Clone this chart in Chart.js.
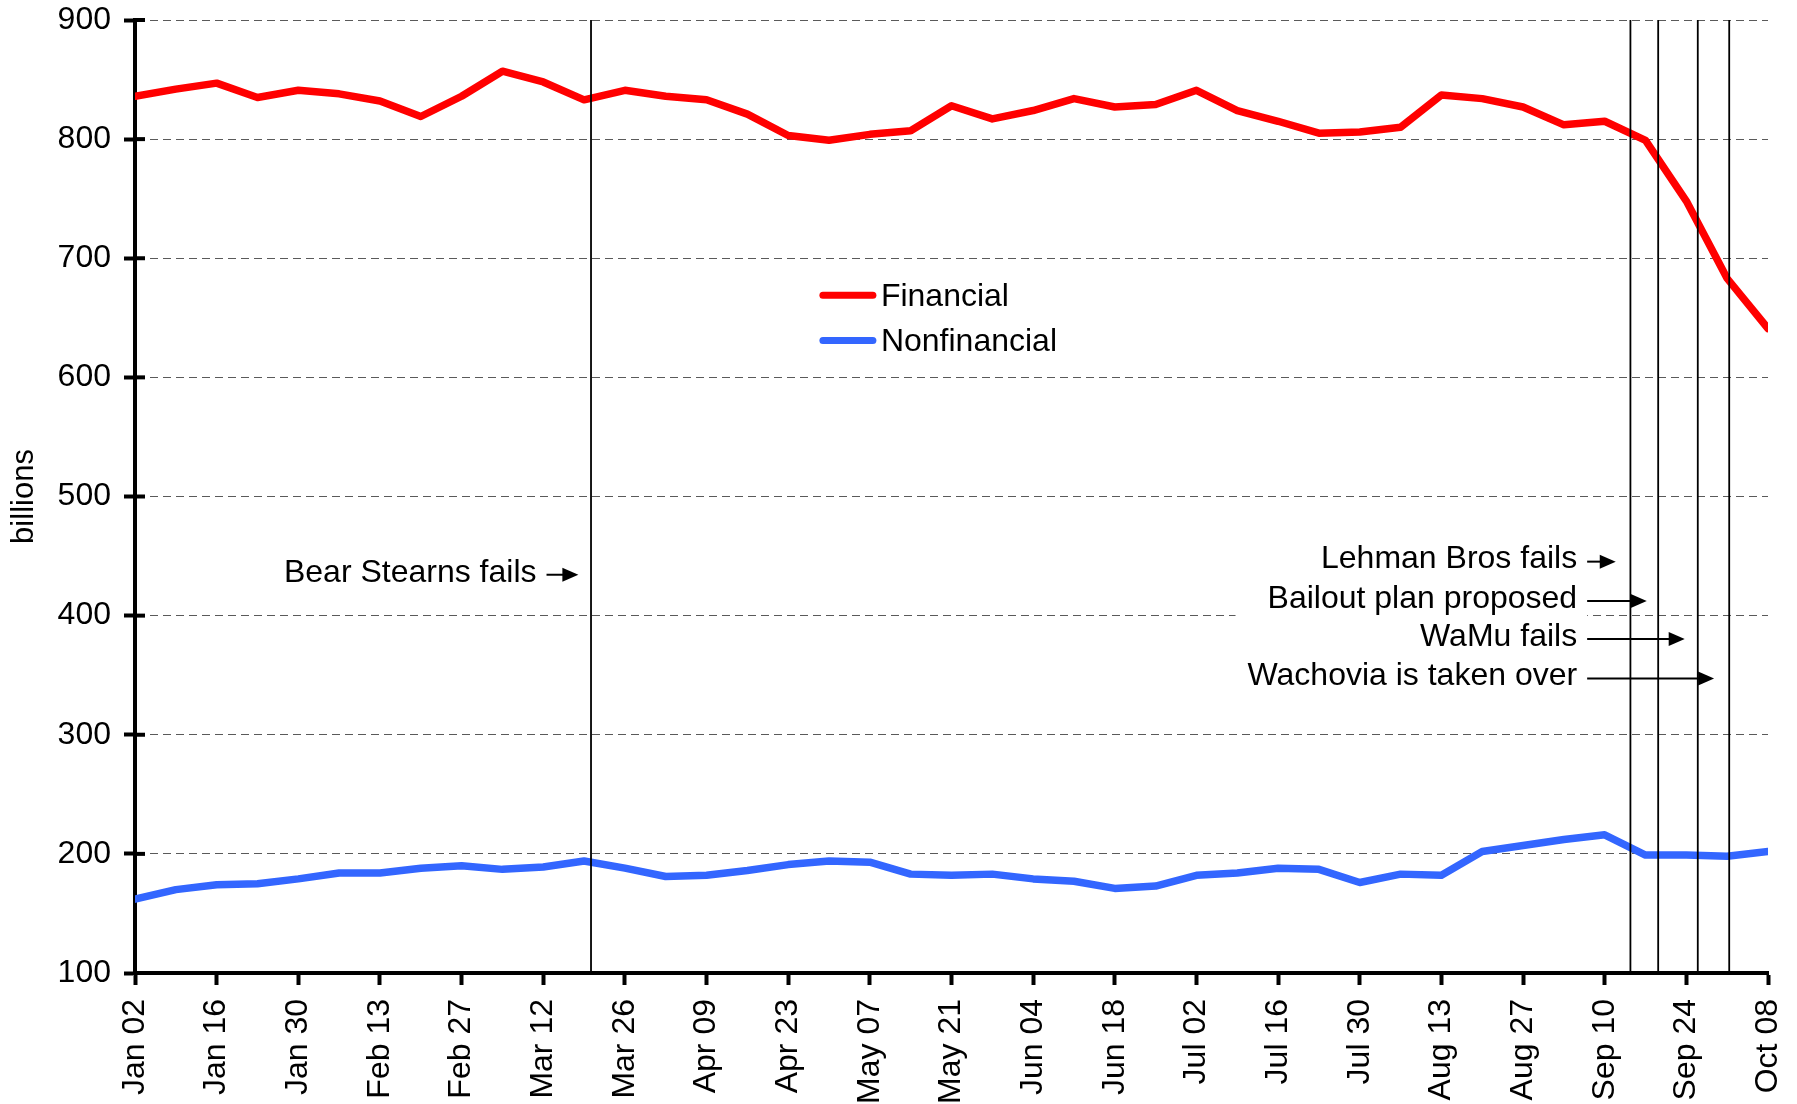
<!DOCTYPE html>
<html>
<head>
<meta charset="utf-8">
<script src="https://cdn.jsdelivr.net/npm/chart.js@4.4.1/dist/chart.umd.min.js"></script>
<style>
  html, body { margin: 0; padding: 0; background: #fff; }
  #wrap { width: 1797px; height: 1104px; }
</style>
</head>
<body>
<div id="wrap"><canvas id="chart" width="1797" height="1104"></canvas></div>
<script>
// weeks of 2008 (wednesdays)
const weeks = ['Jan 02','Jan 09','Jan 16','Jan 23','Jan 30','Feb 06','Feb 13','Feb 20','Feb 27',
  'Mar 05','Mar 12','Mar 19','Mar 26','Apr 02','Apr 09','Apr 16','Apr 23','Apr 30','May 07',
  'May 14','May 21','May 28','Jun 04','Jun 11','Jun 18','Jun 25','Jul 02','Jul 09','Jul 16',
  'Jul 23','Jul 30','Aug 06','Aug 13','Aug 20','Aug 27','Sep 03','Sep 10','Sep 17','Sep 24',
  'Oct 01','Oct 08'];

// commercial paper outstanding, billions
const financial = [836,842,847,835,841,838,832,819,836,857,848,833,841,836,833,821,803,799,804,807,
  828,817,824,834,827,829,841,824,815,805,806,810,837,834,827,812,815,799,748,683,641];
const nonfinancial = [162,170,174,175,179,184,184,188,190,187,189,194,188,181,182,186,191,194,193,183,
  182,183,179,177,171,173,182,184,188,187,176,183,182,202,207,212,216,199,199,198,202];

// events (position in weeks from Jan 02)
const eventNames = ['Bear Stearns fails','Lehman Bros fails','Bailout plan proposed','WaMu fails','Wachovia is taken over'];
const eventWeeks = [11.17, 36.63, 37.31, 38.28, 39.05];
const labelLevels = [436, 447, 414, 382, 349];
const arrowStarts = [10.08, 35.57, 35.57, 35.57, 35.57];
const arrowTips = [10.86, 36.27, 37.03, 37.96, 38.68];

const FONT = '"Liberation Sans", Arial, Helvetica, sans-serif';
const FS = 32;

function arrow(ctx, x1, x2, y) {
  ctx.beginPath();
  ctx.moveTo(x1, y);
  ctx.lineTo(x2 - 12, y);
  ctx.stroke();
  ctx.beginPath();
  ctx.moveTo(x2, y);
  ctx.lineTo(x2 - 16, y - 7);
  ctx.lineTo(x2 - 16, y + 7);
  ctx.closePath();
  ctx.fill();
}

const eventsPlugin = {
  id: 'events',
  beforeDatasetsDraw(chart) {
    // white box behind the right hand labels
    const ctx = chart.ctx, xs = chart.scales.x, ys = chart.scales.y;
    ctx.save();
    ctx.font = FS + 'px ' + FONT;
    let left = 99999, top = 99999, bottom = 0;
    for (let i = 1; i < eventNames.length; i++) {
      const xr = xs.getPixelForValue(arrowStarts[i]) - 12;
      left = Math.min(left, xr - ctx.measureText(eventNames[i]).width - 10);
      const y = ys.getPixelForValue(labelLevels[i]);
      top = Math.min(top, y - 20);
      bottom = Math.max(bottom, y + 20);
    }
    ctx.fillStyle = '#fff';
    ctx.fillRect(left, top, xs.getPixelForValue(arrowStarts[1]) - left, bottom - top);
    ctx.restore();
  },
  afterDatasetsDraw(chart) {
    const ctx = chart.ctx, xs = chart.scales.x, ys = chart.scales.y;
    const area = chart.chartArea;
    ctx.save();
    // event lines
    ctx.strokeStyle = '#000';
    ctx.lineWidth = 1.8;
    eventWeeks.forEach(w => {
      const x = xs.getPixelForValue(w);
      ctx.beginPath();
      ctx.moveTo(x, ys.getPixelForValue(900));
      ctx.lineTo(x, area.bottom);
      ctx.stroke();
    });
    // labels + arrows
    ctx.fillStyle = '#000';
    ctx.font = FS + 'px ' + FONT;
    ctx.textAlign = 'right';
    ctx.textBaseline = 'middle';
    ctx.lineWidth = 2;
    eventNames.forEach((name, i) => {
      const y = ys.getPixelForValue(labelLevels[i]);
      const x1 = xs.getPixelForValue(arrowStarts[i]);
      const x2 = xs.getPixelForValue(arrowTips[i]);
      ctx.fillText(name, x1 - 10, y);
      arrow(ctx, x1, x2, y + 2);
    });
    // inner half of the y ticks
    ctx.lineWidth = 4;
    ys.ticks.forEach(t => {
      const y = ys.getPixelForValue(t.value);
      ctx.beginPath();
      ctx.moveTo(area.left, y);
      ctx.lineTo(area.left + 10, y);
      ctx.stroke();
    });
    // legend
    const lx = xs.getPixelForValue(16.85);
    [['Financial', '#ff0000', 669], ['Nonfinancial', '#3366ff', 631]].forEach(([txt, col, v]) => {
      const y = ys.getPixelForValue(v);
      ctx.strokeStyle = col;
      ctx.lineWidth = 7;
      ctx.lineCap = 'round';
      ctx.beginPath();
      ctx.moveTo(lx, y);
      ctx.lineTo(lx + 50, y);
      ctx.stroke();
      ctx.textAlign = 'left';
      ctx.fillText(txt, lx + 58, y + 2);
    });
    ctx.restore();
  }
};

const toPoints = arr => arr.map((v, i) => ({x: i, y: v}));

new Chart(document.getElementById('chart'), {
  type: 'line',
  data: {
    datasets: [
      {label: 'Financial', data: toPoints(financial), borderColor: '#ff0000', borderWidth: 7.5},
      {label: 'Nonfinancial', data: toPoints(nonfinancial), borderColor: '#3366ff', borderWidth: 7.5}
    ]
  },
  options: {
    responsive: false,
    animation: false,
    devicePixelRatio: 1,
    layout: {padding: {top: 20, right: 29, left: 0, bottom: 0}},
    elements: {
      point: {radius: 0},
      line: {tension: 0, borderJoinStyle: 'round', borderCapStyle: 'round'}
    },
    plugins: {legend: {display: false}, tooltip: {enabled: false}},
    scales: {
      x: {
        type: 'linear',
        min: 0,
        max: 40,
        afterFit: s => { s.height = 131; s.paddingLeft = 0; s.paddingRight = 0; },
        grid: {drawOnChartArea: false, drawTicks: true, tickLength: 12, tickWidth: 4, tickColor: '#000'},
        border: {color: '#000', width: 4},
        ticks: {
          stepSize: 2,
          autoSkip: false,
          maxRotation: 90,
          minRotation: 90,
          padding: 14,
          color: '#000',
          font: {size: FS, family: FONT},
          callback: v => weeks[v]
        }
      },
      y: {
        min: 100,
        max: 900,
        afterFit: s => { s.width = 135; s.paddingTop = 0; s.paddingBottom = 0; },
        grid: {color: '#5a5a5a', lineWidth: 1, tickLength: 11, tickWidth: 4, tickColor: '#000'},
        border: {color: '#000', width: 4, dash: [8, 5]},
        ticks: {stepSize: 100, padding: 13, color: '#000', font: {size: FS, family: FONT}},
        title: {display: true, text: 'billions', color: '#000', font: {size: 31, family: FONT}, padding: {top: 6, bottom: 0}}
      }
    }
  },
  plugins: [eventsPlugin]
});
</script>
</body>
</html>
